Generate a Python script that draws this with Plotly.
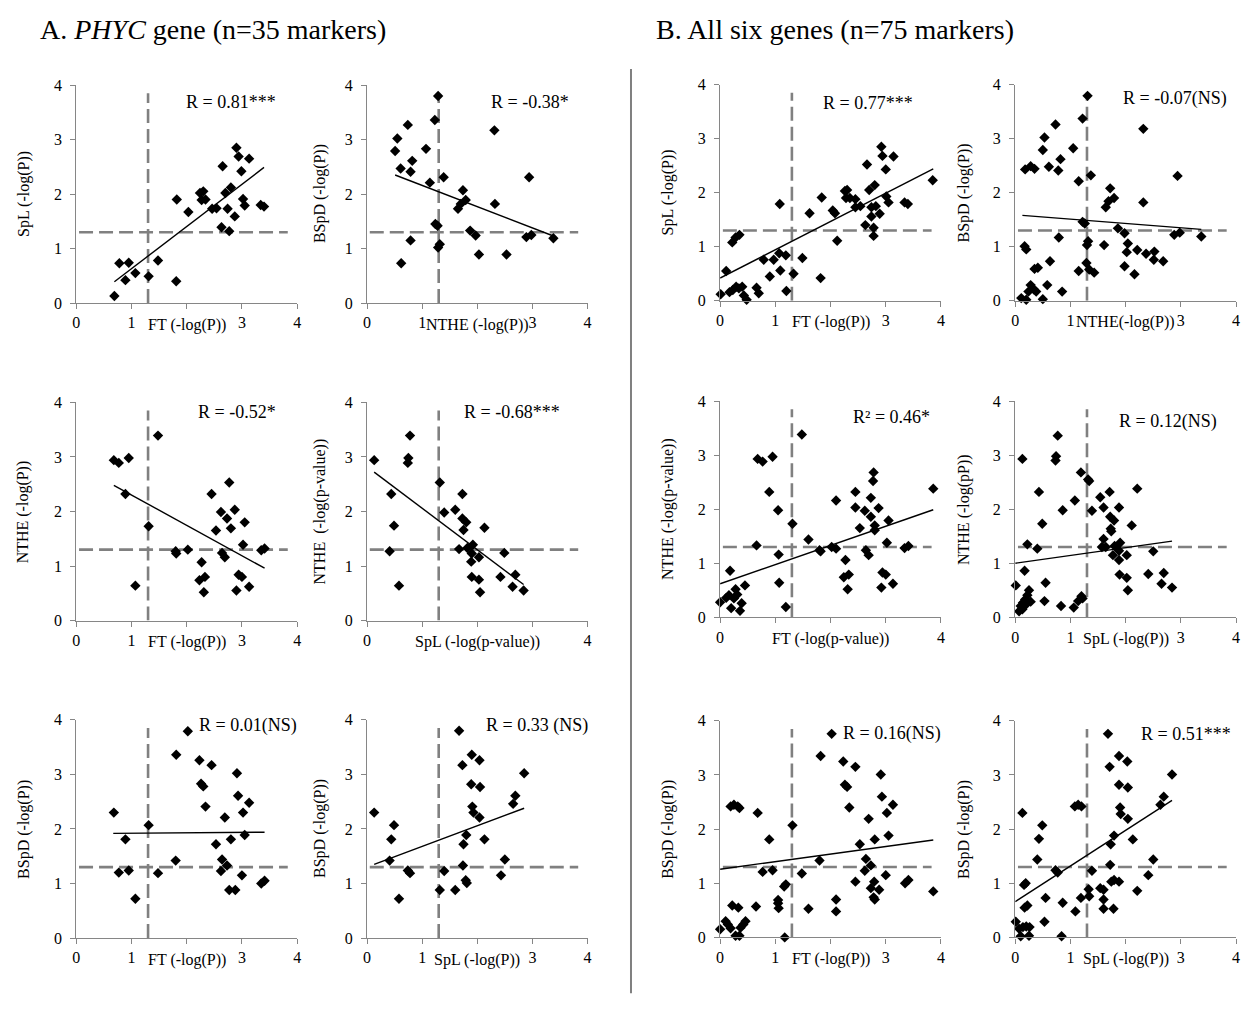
import plotly.graph_objects as go

# Page body has an 8px margin; figure is sized to fit the 1252x1010 window
OFF = 8
W, H = 1252 - OFF, 1010 - OFF

# ================= DATA =================
# ---- Panel A: PHYC gene (n=35 markers) ----
# A1: SpL vs FT
a1_x = [0.69, 0.78, 0.89, 0.95, 1.07, 1.31, 1.48, 1.81, 1.82, 2.03, 2.24, 2.30, 2.27, 2.34, 2.46, 2.54,
        2.63, 2.65, 2.70, 2.74, 2.77, 2.80, 2.87, 2.90, 2.94, 2.99, 3.02, 3.05, 3.13, 3.34, 3.40]
a1_y = [0.13, 0.73, 0.42, 0.74, 0.55, 0.49, 0.78, 0.40, 1.90, 1.67, 2.02, 2.05, 1.89, 1.90, 1.73, 1.74,
        1.39, 2.51, 2.02, 1.73, 1.32, 2.12, 1.59, 2.85, 2.69, 2.42, 1.91, 1.79, 2.65, 1.80, 1.77]
# A2: BSpD vs NTHE
a2_x = [1.29, 1.23, 0.74, 0.55, 0.51, 1.07, 0.82, 0.61, 0.79, 1.14, 1.39, 2.31, 1.74, 1.79, 1.70, 1.65,
        2.32, 2.94, 1.24, 1.28, 1.87, 1.97, 0.79, 1.32, 1.29, 2.03, 2.53, 0.62, 2.89, 2.98, 3.38]
a2_y = [3.80, 3.36, 3.27, 3.02, 2.79, 2.83, 2.61, 2.47, 2.41, 2.21, 2.31, 3.17, 2.07, 1.89, 1.82, 1.73,
        1.82, 2.31, 1.45, 1.42, 1.33, 1.24, 1.15, 1.08, 1.02, 0.89, 0.89, 0.73, 1.21, 1.25, 1.19]
# A3: NTHE vs FT
a3_x = [0.68, 0.77, 0.95, 1.48, 0.89, 1.31, 1.07, 1.80, 1.81, 2.02, 2.27, 2.23, 2.33, 2.31, 2.45, 2.53,
        2.62, 2.73, 2.77, 2.80, 2.87, 2.64, 2.69, 3.02, 3.05, 2.94, 3.00, 2.90, 3.13, 3.35, 3.41]
a3_y = [2.94, 2.89, 2.98, 3.39, 2.32, 1.73, 0.64, 1.27, 1.23, 1.30, 1.07, 0.74, 0.80, 0.52, 2.32, 1.65,
        1.99, 1.87, 2.53, 1.69, 2.03, 1.24, 1.16, 1.39, 1.80, 0.84, 0.80, 0.55, 0.62, 1.29, 1.32]
# A4: NTHE vs SpL
a4_x = [0.13, 0.78, 0.75, 0.74, 0.44, 0.49, 0.41, 0.58, 1.32, 1.40, 1.60, 1.73, 1.73, 1.80, 1.75, 2.13,
        1.67, 1.82, 1.92, 1.90, 2.03, 1.89, 1.90, 2.03, 2.05, 2.42, 2.49, 2.69, 2.64, 2.84]
a4_y = [2.94, 3.39, 2.98, 2.89, 2.32, 1.74, 1.27, 0.64, 2.53, 1.98, 2.03, 2.32, 1.87, 1.80, 1.66, 1.70,
        1.31, 1.33, 1.39, 1.23, 1.16, 1.08, 0.80, 0.75, 0.52, 0.80, 1.24, 0.84, 0.62, 0.55]
# A5: BSpD vs FT
a5_x = [0.68, 0.77, 0.95, 0.89, 1.07, 1.31, 1.48, 1.80, 1.81, 2.02, 2.23, 2.45, 2.26, 2.30, 2.34, 2.69,
        2.53, 2.80, 2.64, 2.62, 2.73, 2.77, 2.88, 2.91, 2.93, 3.00, 3.02, 3.05, 3.13, 3.35, 3.41]
a5_y = [2.30, 1.20, 1.24, 1.81, 0.72, 2.07, 1.19, 1.42, 3.36, 3.79, 3.26, 3.17, 2.83, 2.78, 2.41, 2.21,
        1.72, 1.81, 1.44, 1.23, 1.33, 0.88, 0.88, 3.02, 2.61, 1.15, 2.30, 1.89, 2.48, 1.00, 1.05]
# A6: BSpD vs SpL
a6_x = [0.13, 0.44, 0.49, 0.41, 0.58, 0.74, 0.78, 1.32, 1.40, 1.60, 1.67, 1.73, 1.90, 2.04, 1.89, 2.05,
        1.91, 1.93, 2.04, 1.80, 1.75, 2.13, 1.74, 1.79, 1.81, 2.50, 2.43, 2.65, 2.69, 2.85]
a6_y = [2.30, 1.81, 2.07, 1.42, 0.72, 1.24, 1.19, 0.88, 1.23, 0.88, 3.80, 3.17, 3.36, 3.26, 2.82, 2.77,
        2.41, 2.30, 2.21, 1.89, 1.72, 1.81, 1.33, 1.06, 1.01, 1.44, 1.15, 2.46, 2.61, 3.02]

# ---- Panel B: all six genes (n=75 markers) ----
# B1: SpL vs FT
b1_x = [0.01, 0.11, 0.17, 0.23, 0.29, 0.34, 0.40, 0.43, 0.48, 0.22, 0.28, 0.35, 0.66, 0.70, 0.79, 0.97,
        0.90, 1.07, 1.09, 1.19, 1.20, 1.08, 1.33, 1.49, 1.62, 1.82, 1.84, 2.04, 2.08, 2.12, 2.26, 2.30,
        2.28, 2.35, 2.45, 2.45, 2.54, 2.63, 2.66, 2.70, 2.74, 2.74, 2.80, 2.78, 2.78, 2.82, 2.89, 2.92,
        2.94, 3.00, 3.01, 3.05, 3.14, 3.34, 3.40, 3.85]
b1_y = [0.12, 0.55, 0.16, 0.20, 0.26, 0.23, 0.26, 0.10, 0.02, 1.08, 1.17, 1.22, 0.24, 0.14, 0.76, 0.76,
        0.45, 0.88, 0.56, 0.84, 0.18, 1.79, 0.50, 0.79, 1.62, 0.42, 1.91, 1.67, 1.62, 1.11, 2.03, 2.05,
        1.90, 1.90, 1.88, 1.73, 1.75, 1.40, 2.52, 2.05, 1.73, 1.56, 2.14, 1.35, 1.20, 1.75, 1.61, 2.85,
        2.68, 2.43, 1.93, 1.82, 2.67, 1.82, 1.79, 2.23]
# B2: BSpD vs NTHE
b2_x = [1.31, 1.22, 0.73, 0.53, 0.50, 1.05, 0.82, 0.18, 0.28, 0.35, 0.61, 0.78, 1.15, 1.37, 2.32, 1.72,
        1.79, 1.69, 1.64, 2.32, 2.94, 1.22, 1.26, 1.86, 1.98, 2.88, 2.98, 3.37, 0.79, 0.17, 0.20, 1.32,
        1.30, 1.61, 2.04, 2.02, 2.21, 2.37, 2.52, 2.51, 2.68, 0.63, 1.98, 2.16, 0.35, 0.41, 1.29, 1.15,
        1.34, 1.43, 0.58, 0.85, 0.28, 0.34, 0.24, 0.38, 0.11, 0.20, 0.50]
b2_y = [3.79, 3.37, 3.26, 3.02, 2.79, 2.82, 2.62, 2.43, 2.49, 2.44, 2.48, 2.41, 2.21, 2.32, 3.18, 2.08,
        1.90, 1.84, 1.73, 1.82, 2.31, 1.46, 1.43, 1.34, 1.25, 1.22, 1.26, 1.19, 1.17, 1.01, 0.95, 1.10,
        1.03, 1.03, 1.06, 0.90, 0.94, 0.87, 0.91, 0.76, 0.73, 0.73, 0.64, 0.49, 0.59, 0.61, 0.70, 0.55,
        0.58, 0.52, 0.29, 0.17, 0.29, 0.21, 0.17, 0.17, 0.05, 0.02, 0.03]
# B3: NTHE vs FT
b3_x = [0.00, 0.11, 0.16, 0.20, 0.25, 0.28, 0.31, 0.36, 0.39, 0.45, 0.18, 0.66, 0.68, 0.77, 0.95, 0.89,
        1.05, 1.06, 1.07, 1.19, 1.31, 1.48, 1.60, 1.80, 1.82, 2.02, 2.10, 2.10, 2.27, 2.24, 2.33, 2.31,
        2.45, 2.45, 2.53, 2.62, 2.64, 2.69, 2.73, 2.73, 2.77, 2.78, 2.80, 2.80, 2.87, 2.92, 2.94, 3.00,
        3.02, 3.05, 3.13, 3.34, 3.41, 3.86]
b3_y = [0.28, 0.36, 0.41, 0.17, 0.35, 0.52, 0.42, 0.12, 0.26, 0.59, 0.86, 1.33, 2.93, 2.88, 2.97, 2.32,
        1.98, 1.16, 0.64, 0.19, 1.73, 3.38, 1.44, 1.24, 1.22, 1.30, 1.27, 2.16, 1.06, 0.74, 0.79, 0.52,
        2.32, 2.03, 1.65, 1.97, 1.24, 1.15, 2.21, 1.86, 2.52, 2.68, 1.70, 1.61, 2.02, 0.55, 0.83, 0.79,
        1.38, 1.79, 0.62, 1.28, 1.32, 2.38]
# B4: NTHE vs SpL
b4_x = [0.01, 0.13, 0.22, 0.17, 0.40, 0.43, 0.49, 0.55, 0.53, 0.07, 0.10, 0.14, 0.18, 0.22, 0.25, 0.20,
        0.28, 0.13, 0.77, 0.74, 0.73, 0.86, 0.83, 1.06, 1.08, 1.14, 1.20, 1.22, 1.19, 1.32, 1.34, 1.39,
        1.54, 1.60, 1.71, 1.72, 1.79, 1.73, 1.74, 1.88, 2.11, 2.21, 1.60, 1.57, 1.64, 1.80, 1.90, 1.88,
        1.77, 2.02, 1.88, 1.89, 2.02, 2.04, 2.41, 2.50, 2.69, 2.65, 2.84]
b4_y = [0.59, 2.93, 1.35, 0.86, 1.27, 2.32, 1.73, 0.64, 0.30, 0.11, 0.21, 0.27, 0.33, 0.41, 0.50, 0.24,
        0.29, 0.15, 3.36, 2.98, 2.90, 1.98, 0.21, 0.18, 2.16, 0.30, 0.39, 0.35, 2.68, 2.55, 2.52, 1.97,
        2.22, 2.03, 2.32, 1.86, 1.79, 1.64, 1.59, 2.03, 1.70, 2.38, 1.45, 1.30, 1.30, 1.32, 1.38, 1.23,
        1.15, 1.15, 1.06, 0.79, 0.73, 0.50, 0.80, 1.22, 0.82, 0.62, 0.55]
# B5: BSpD vs FT
b5_x = [0.00, 0.10, 0.14, 0.19, 0.28, 0.35, 0.37, 0.42, 0.46, 0.19, 0.25, 0.32, 0.35, 0.22, 0.33, 0.65,
        0.68, 0.77, 0.89, 0.95, 1.05, 1.05, 1.06, 1.16, 1.19, 1.17, 1.31, 1.48, 1.60, 1.80, 1.82, 2.02,
        2.10, 2.10, 2.23, 2.45, 2.26, 2.30, 2.34, 2.45, 2.69, 2.53, 2.64, 2.62, 2.73, 2.80, 2.79, 2.73,
        2.78, 2.80, 2.88, 2.91, 2.93, 3.00, 3.02, 3.05, 3.13, 3.35, 3.41, 3.86]
b5_y = [0.15, 0.30, 0.24, 0.17, 0.03, 0.03, 0.18, 0.24, 0.30, 2.42, 2.45, 2.42, 2.39, 0.59, 0.55, 0.57,
        2.30, 1.21, 1.81, 1.24, 0.69, 0.63, 0.54, 0.94, 0.98, 0.00, 2.07, 1.18, 0.53, 1.42, 3.35, 3.76,
        0.70, 0.48, 3.25, 3.15, 2.82, 2.78, 2.40, 1.03, 2.19, 1.72, 1.45, 1.23, 1.33, 1.81, 1.03, 0.91,
        0.74, 0.70, 0.88, 3.01, 2.60, 1.15, 2.30, 1.88, 2.45, 1.00, 1.06, 0.85]
# B6: BSpD vs SpL
b6_x = [0.01, 0.07, 0.10, 0.14, 0.20, 0.25, 0.26, 0.17, 0.22, 0.16, 0.19, 0.13, 0.40, 0.43, 0.49, 0.55,
        0.53, 0.73, 0.77, 0.86, 0.84, 1.08, 1.14, 1.20, 1.09, 1.19, 1.33, 1.34, 1.39, 1.54, 1.60, 1.60,
        1.60, 1.68, 1.71, 1.78, 1.73, 1.79, 1.72, 1.74, 1.79, 1.88, 1.88, 2.03, 1.88, 2.04, 1.90, 1.91,
        2.04, 2.13, 2.21, 2.41, 2.50, 2.63, 2.69, 2.84]
b6_y = [0.29, 0.16, 0.02, 0.19, 0.20, 0.03, 0.19, 0.55, 0.59, 0.97, 1.00, 2.30, 1.44, 1.82, 2.07, 0.73,
        0.29, 1.24, 1.20, 0.64, 0.02, 2.42, 2.45, 2.42, 0.48, 0.73, 0.89, 0.76, 1.23, 0.91, 0.88, 0.70,
        0.53, 3.76, 3.15, 0.53, 1.72, 1.88, 1.34, 1.03, 1.06, 1.03, 3.35, 3.25, 2.82, 2.77, 2.40, 2.28,
        2.19, 1.81, 0.86, 1.15, 1.44, 2.45, 2.60, 3.01]

# Order: A1..A6, B1..B6
xs = [a1_x, a2_x, a3_x, a4_x, a5_x, a6_x, b1_x, b2_x, b3_x, b4_x, b5_x, b6_x]
ys = [a1_y, a2_y, a3_y, a4_y, a5_y, a6_y, b1_y, b2_y, b3_y, b4_y, b5_y, b6_y]

# Linear trend lines (start/end)
trend_x0 = [0.69, 0.51, 0.68, 0.13, 0.67, 0.13, 0.00, 0.13, 0.00, 0.00, 0.00, 0.00]
trend_x1 = [3.40, 3.38, 3.41, 2.84, 3.41, 2.85, 3.86, 3.37, 3.86, 2.84, 3.86, 2.84]
trend_y0 = [0.39, 2.35, 2.48, 2.72, 1.92, 1.35, 0.42, 1.58, 0.62, 1.00, 1.26, 0.66]
trend_y1 = [2.49, 1.23, 0.96, 0.66, 1.94, 2.38, 2.44, 1.32, 1.99, 1.41, 1.80, 2.53]

r_labels = ["R = 0.81***", "R = -0.38*", "R = -0.52*", "R = -0.68***", "R = 0.01(NS)", "R = 0.33 (NS)",
            "R = 0.77***", "R = -0.07(NS)", "R² = 0.46*", "R = 0.12(NS)", "R = 0.16(NS)", "R = 0.51***"]
x_titles = ["FT (-log(P))", "NTHE (-log(P))", "FT (-log(P))", "SpL (-log(p-value))", "FT (-log(P))", "SpL (-log(P))",
            "FT (-log(P))", "NTHE(-log(P))", "FT (-log(p-value))", "SpL (-log(P))", "FT (-log(P))", "SpL (-log(P))"]
y_titles = ["SpL (-log(P))", "BSpD (-log(P))", "NTHE (-log(P))", "NTHE  (-log(p-value))", "BSpD (-log(P))", "BSpD (-log(P))",
            "SpL (-log(P))", "BSpD (-log(P))", "NTHE (-log(p-value))", "NTHE (-log(pP))", "BSpD (-log(P))", "BSpD (-log(P))"]
ticks = [0, 1, 2, 3, 4]
# x tick labels as visible in the original (labels hidden under the axis title are blank)
xt_std = ["0", "1", "", "3", "4"]
xt_wide = ["0", "", "", "", "4"]
x_ticktext = [xt_std, xt_std, xt_std, xt_wide, xt_std, xt_std,
              xt_std, xt_std, xt_wide, xt_std, xt_std, xt_std]
threshold = 1.3  # -log10(0.05)

# ================= LAYOUT (pixel boxes in the window) =================
cols = {"Al": (72.7, 295.0), "Ar": (365.3, 587.3), "Bl": (720.7, 943.0), "Br": (1017.7, 1240.0)}
rowsA = [(78.3, 300.0), (401.0, 623.0), (724.0, 946.0)]
rowsB = [(77.7, 297.7), (399.7, 619.7), (725.0, 945.3)]
boxes = []
for r in range(3):
    boxes.append((cols["Al"], rowsA[r]))
    boxes.append((cols["Ar"], rowsA[r]))
for r in range(3):
    boxes.append((cols["Bl"], rowsB[r]))
    boxes.append((cols["Br"], rowsB[r]))

r_pos = [(276, 95), (571, 95), (276, 411), (562, 411), (297, 730), (590, 730),
         (917, 97), (1233, 92), (934, 416), (1223, 421), (945, 738), (1237, 738)]
ytitle_x = {"Al": 20, "Ar": 318, "Bl": 668, "Br": 966}

SERIF = "Liberation Serif"
GRAY = "#868686"
DASH = "#808080"


def px(x):
    return (x - OFF) / W


def py(y):
    return 1 - (y - OFF) / H


fig = go.Figure()
layout = {}
annotations = []

colkeys = ["Al", "Ar", "Al", "Ar", "Al", "Ar", "Bl", "Br", "Bl", "Br", "Bl", "Br"]

for i in range(12):
    k = i + 1
    suf = "" if k == 1 else str(k)
    xref, yref = "x" + suf, "y" + suf
    (x0p, x1p), (y4p, y0p) = boxes[i]

    axis_common = dict(range=[0, 4], tickvals=ticks, ticks="outside", ticklen=5, tickwidth=1.3,
                       tickcolor=GRAY, showline=True, linecolor=GRAY, linewidth=1.3,
                       showgrid=False, zeroline=False, fixedrange=True,
                       tickfont=dict(family=SERIF, size=16, color="black"))
    layout["xaxis" + suf] = dict(domain=[px(x0p), px(x1p)], anchor=yref, ticktext=x_ticktext[i], **axis_common)
    layout["yaxis" + suf] = dict(domain=[py(y0p), py(y4p)], anchor=xref, ticklabelstandoff=5, **axis_common)

    fig.add_trace(go.Scatter(x=[0.05, 3.83], y=[threshold, threshold], mode="lines",
                             line=dict(color=DASH, width=2.6, dash="14px,6px"),
                             xaxis=xref, yaxis=yref, hoverinfo="skip", showlegend=False))
    fig.add_trace(go.Scatter(x=[threshold, threshold], y=[0, 3.85], mode="lines",
                             line=dict(color=DASH, width=2.6, dash="14px,6px"),
                             xaxis=xref, yaxis=yref, hoverinfo="skip", showlegend=False))
    fig.add_trace(go.Scatter(x=xs[i], y=ys[i], mode="markers",
                             marker=dict(symbol="diamond", size=8, color="black"),
                             cliponaxis=False, xaxis=xref, yaxis=yref, showlegend=False))
    fig.add_trace(go.Scatter(x=[trend_x0[i], trend_x1[i]], y=[trend_y0[i], trend_y1[i]], mode="lines",
                             line=dict(color="black", width=1.4),
                             xaxis=xref, yaxis=yref, hoverinfo="skip", showlegend=False))

    rx, ry = r_pos[i]
    annotations.append(dict(text=r_labels[i], x=px(rx), y=py(ry), xref="paper", yref="paper",
                            xanchor="right", yanchor="middle", showarrow=False,
                            font=dict(family=SERIF, size=18, color="black")))
    annotations.append(dict(text=x_titles[i], x=px((x0p + x1p) / 2), y=py(y0p + 22), xref="paper", yref="paper",
                            xanchor="center", yanchor="middle", showarrow=False,
                            font=dict(family=SERIF, size=16, color="black")))
    annotations.append(dict(text=y_titles[i], x=px(ytitle_x[colkeys[i]]), y=py((y4p + y0p) / 2),
                            xref="paper", yref="paper", textangle=-90,
                            xanchor="center", yanchor="middle", showarrow=False,
                            font=dict(family=SERIF, size=16, color="black")))

annotations.append(dict(text="A. <i>PHYC</i> gene (n=35 markers)", x=px(34), y=py(22), xref="paper", yref="paper",
                        xanchor="left", yanchor="middle", showarrow=False,
                        font=dict(family=SERIF, size=28, color="black")))
annotations.append(dict(text="B. All six genes (n=75 markers)", x=px(654), y=py(22), xref="paper", yref="paper",
                        xanchor="left", yanchor="middle", showarrow=False,
                        font=dict(family=SERIF, size=28, color="black")))

fig.update_layout(
    width=W, height=H,
    margin=dict(l=0, r=0, t=0, b=0),
    paper_bgcolor="white", plot_bgcolor="white",
    showlegend=False,
    annotations=annotations,
    shapes=[dict(type="line", xref="paper", yref="paper", x0=px(631), x1=px(631), y0=py(62), y1=py(1002),
                 line=dict(color=DASH, width=2))],
    **layout,
)

fig.write_html("out.html")
